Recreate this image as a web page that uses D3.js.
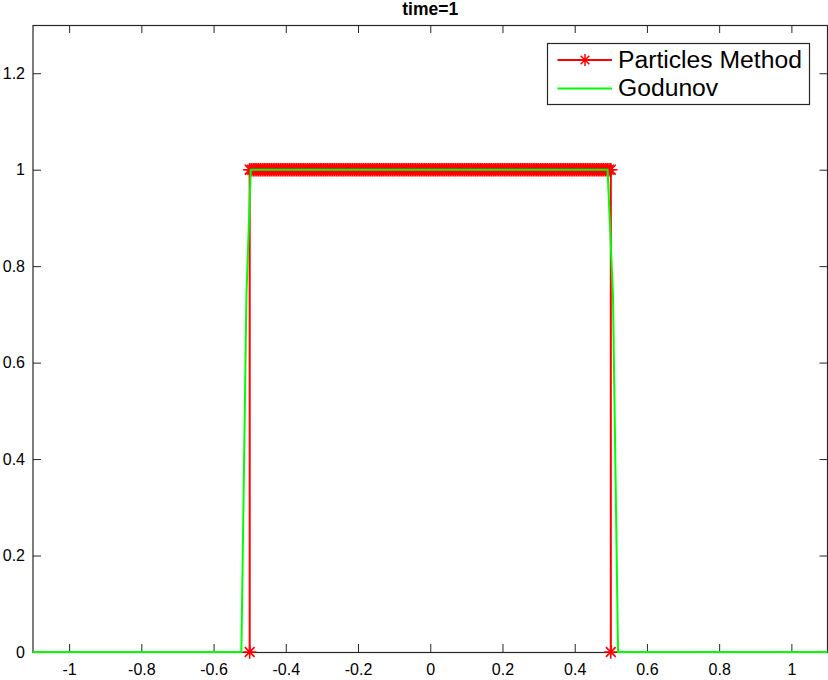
<!DOCTYPE html>
<html><head><meta charset="utf-8">
<script src="https://cdn.jsdelivr.net/npm/d3@7"></script>
<style>body{margin:0;background:#fff}svg{display:block}text{font-family:"Liberation Sans",Arial,Helvetica,sans-serif}</style>
</head><body>
<svg id="c" width="828" height="680"></svg>
<script>
// ---- data ----
const titleText = "time=1";
const xTicks = [-1,-0.8,-0.6,-0.4,-0.2,0,0.2,0.4,0.6,0.8,1];
const xTickLabels = ["-1","-0.8","-0.6","-0.4","-0.2","0","0.2","0.4","0.6","0.8","1"];
const yTicks = [0,0.2,0.4,0.6,0.8,1,1.2];
const yTickLabels = ["0","0.2","0.4","0.6","0.8","1","1.2"];
const seriesNames = ["Particles Method","Godunov"];

// Particles Method: (-0.5,0), dense particles on y=1 from -0.5 to 0.5, then (0.5,0)
const particlesX = [-0.5,
-0.500,-0.495,-0.490,-0.485,-0.480,-0.475,-0.470,-0.465,-0.460,-0.455,-0.450,-0.445,-0.440,-0.435,-0.430,-0.425,-0.420,-0.415,-0.410,-0.405,
-0.400,-0.395,-0.390,-0.385,-0.380,-0.375,-0.370,-0.365,-0.360,-0.355,-0.350,-0.345,-0.340,-0.335,-0.330,-0.325,-0.320,-0.315,-0.310,-0.305,
-0.300,-0.295,-0.290,-0.285,-0.280,-0.275,-0.270,-0.265,-0.260,-0.255,-0.250,-0.245,-0.240,-0.235,-0.230,-0.225,-0.220,-0.215,-0.210,-0.205,
-0.200,-0.195,-0.190,-0.185,-0.180,-0.175,-0.170,-0.165,-0.160,-0.155,-0.150,-0.145,-0.140,-0.135,-0.130,-0.125,-0.120,-0.115,-0.110,-0.105,
-0.100,-0.095,-0.090,-0.085,-0.080,-0.075,-0.070,-0.065,-0.060,-0.055,-0.050,-0.045,-0.040,-0.035,-0.030,-0.025,-0.020,-0.015,-0.010,-0.005,
0.000,0.005,0.010,0.015,0.020,0.025,0.030,0.035,0.040,0.045,0.050,0.055,0.060,0.065,0.070,0.075,0.080,0.085,0.090,0.095,
0.100,0.105,0.110,0.115,0.120,0.125,0.130,0.135,0.140,0.145,0.150,0.155,0.160,0.165,0.170,0.175,0.180,0.185,0.190,0.195,
0.200,0.205,0.210,0.215,0.220,0.225,0.230,0.235,0.240,0.245,0.250,0.255,0.260,0.265,0.270,0.275,0.280,0.285,0.290,0.295,
0.300,0.305,0.310,0.315,0.320,0.325,0.330,0.335,0.340,0.345,0.350,0.355,0.360,0.365,0.370,0.375,0.380,0.385,0.390,0.395,
0.400,0.405,0.410,0.415,0.420,0.425,0.430,0.435,0.440,0.445,0.450,0.455,0.460,0.465,0.470,0.475,0.480,0.485,0.490,0.495,
0.500,
0.5];
const particlesY = [0,
1,1,1,1,1,1,1,1,1,1,1,1,1,1,1,1,1,1,1,1,
1,1,1,1,1,1,1,1,1,1,1,1,1,1,1,1,1,1,1,1,
1,1,1,1,1,1,1,1,1,1,1,1,1,1,1,1,1,1,1,1,
1,1,1,1,1,1,1,1,1,1,1,1,1,1,1,1,1,1,1,1,
1,1,1,1,1,1,1,1,1,1,1,1,1,1,1,1,1,1,1,1,
1,1,1,1,1,1,1,1,1,1,1,1,1,1,1,1,1,1,1,1,
1,1,1,1,1,1,1,1,1,1,1,1,1,1,1,1,1,1,1,1,
1,1,1,1,1,1,1,1,1,1,1,1,1,1,1,1,1,1,1,1,
1,1,1,1,1,1,1,1,1,1,1,1,1,1,1,1,1,1,1,1,
1,1,1,1,1,1,1,1,1,1,1,1,1,1,1,1,1,1,1,1,
1,
0];

// Godunov
const godunovX = [-1.1,-0.523,-0.509,-0.497,0.491,0.506,0.520,1.1];
const godunovY = [0,0,0.74,1,1,0.74,0,0];

// ---- drawing ----
const svg = d3.select("#c");
const L = 33, R = 827.5, T = 25, B = 652;
const x = d3.scaleLinear().domain([-1.1,1.1]).range([L,R]);
const y = d3.scaleLinear().domain([0,1.3]).range([B,T]);
const axisColor = "#262626";
const tickFont = 16;

// axes (drawn first, data on top)
function styleAxis(g){
  g.select(".domain").remove();
  g.selectAll(".tick line").attr("stroke",axisColor).attr("stroke-width",1);
  g.selectAll(".tick text").attr("fill","#000").style("font-size",tickFont+"px")
    .style("font-family",'"Liberation Sans",Arial,Helvetica,sans-serif');
}
svg.append("rect").attr("x",L).attr("y",T+0.5).attr("width",R-L).attr("height",B-T)
  .attr("fill","none").attr("stroke",axisColor).attr("stroke-width",1.2);
svg.append("g").attr("transform",`translate(0,${B})`)
  .call(d3.axisBottom(x).tickValues(xTicks).tickFormat((d,i)=>xTickLabels[i]).tickSizeInner(-8).tickSizeOuter(0).tickPadding(12))
  .call(styleAxis);
svg.append("g").attr("transform",`translate(0,${T})`)
  .call(d3.axisTop(x).tickValues(xTicks).tickFormat("").tickSizeInner(-8).tickSizeOuter(0))
  .call(styleAxis);
svg.append("g").attr("transform",`translate(${L},0)`)
  .call(d3.axisLeft(y).tickValues(yTicks).tickFormat((d,i)=>yTickLabels[i]).tickSizeInner(-8).tickSizeOuter(0).tickPadding(8))
  .call(styleAxis);
svg.append("g").attr("transform",`translate(${R},0)`)
  .call(d3.axisRight(y).tickValues(yTicks).tickFormat("").tickSizeInner(-8).tickSizeOuter(0))
  .call(styleAxis);

const plot = svg.append("g");

const line = d3.line().x(d=>x(d[0])).y(d=>y(d[1]));
const pData = particlesX.map((v,i)=>[v,particlesY[i]]);
const gData = godunovX.map((v,i)=>[v,godunovY[i]]);

function starPath(r){
  const d = r*0.72;
  return `M${-r},0L${r},0M0,${-r}L0,${r}M${-d},${-d}L${d},${d}M${-d},${d}L${d},${-d}`;
}

plot.append("path").datum(pData).attr("d",line)
  .attr("fill","none").attr("stroke","#ff0000").attr("stroke-width",2);
plot.append("g").selectAll("path").data(pData).join("path")
  .attr("transform",d=>`translate(${x(d[0])},${y(d[1])})`)
  .attr("d",starPath(6.8)).attr("fill","none").attr("stroke","#ff0000").attr("stroke-width",1.6);

plot.append("path").datum(gData).attr("d",line)
  .attr("fill","none").attr("stroke","#00ff00").attr("stroke-width",2);

// title
svg.append("text").attr("x",(L+R)/2).attr("y",15).attr("text-anchor","middle")
  .style("font-size","17.5px").style("font-weight","bold").attr("fill","#000").text(titleText);

// legend
const lg = svg.append("g");
lg.append("rect").attr("x",547.5).attr("y",43.5).attr("width",262).attr("height",61)
  .attr("fill","#fff").attr("stroke",axisColor).attr("stroke-width",1.2);
const colors = ["#ff0000","#00ff00"];
seriesNames.forEach((name,i)=>{
  const yy = 60 + i*28.5;
  lg.append("line").attr("x1",557.5).attr("x2",612).attr("y1",yy).attr("y2",yy)
    .attr("stroke",colors[i]).attr("stroke-width",2);
  if(i===0){
    lg.append("path").attr("transform",`translate(585,${yy})`).attr("d",starPath(6))
      .attr("fill","none").attr("stroke",colors[i]).attr("stroke-width",1.5);
  }
  lg.append("text").attr("x",618).attr("y",yy+7.5).style("font-size","24.7px").attr("fill","#000").text(name);
});
</script>
</body></html>
